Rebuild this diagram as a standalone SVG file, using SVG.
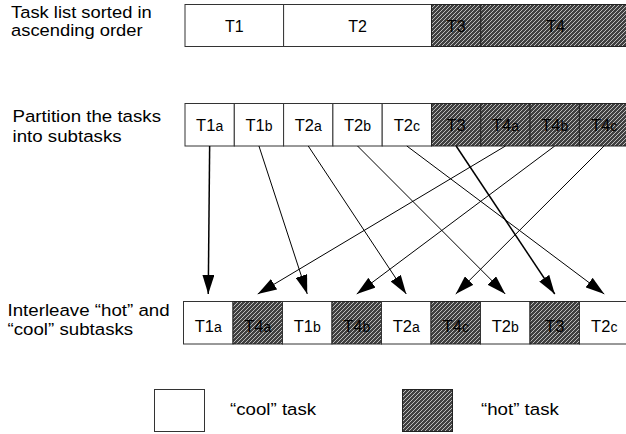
<svg xmlns="http://www.w3.org/2000/svg" width="626" height="434" viewBox="0 0 626 434">
  <style>
    .lbl { font-family: "Liberation Sans", Arial, sans-serif; font-size: 17px; fill: #000; }
    .cell { font-family: "Liberation Sans", Arial, sans-serif; font-size: 16.5px; fill: #000; text-anchor: middle; }
    .big { font-size: 16px; }
    .sub { font-size: 14px; }
    .cool { fill: #fff; stroke: #333; stroke-width: 1; }
    .hot { fill: url(#hatch); stroke: #222; stroke-width: 1; }
    .link { stroke: #000; stroke-width: 1; fill: none; marker-end: url(#head); }
    .thick { stroke-width: 1.5; }
  </style>
  <defs>
    <pattern id="hatch" patternUnits="userSpaceOnUse" width="4" height="4">
      <rect width="4" height="4" fill="#404040"/>
      <path d="M-1,1 l2,-2 M0,4 l4,-4 M3,5 l2,-2" stroke="#c8c8c8" stroke-width="0.9"/>
    </pattern>
    <marker id="head" markerUnits="userSpaceOnUse" markerWidth="19" markerHeight="12" refX="19" refY="6" orient="auto">
      <path d="M0,0 L19,6 L0,12 z" fill="#000"/>
    </marker>
  </defs>

  <!-- row labels -->
  <g id="label-sorted">
    <text class="lbl" transform="translate(11,0) scale(1.08,1)"><tspan x="0" y="18">Task list sorted in</tspan><tspan x="0" y="36">ascending order</tspan></text>
  </g>
  <g id="label-partition">
    <text class="lbl" transform="translate(12.5,0) scale(1.1,1)"><tspan x="0" y="122">Partition the tasks</tspan><tspan x="0" y="142">into subtasks</tspan></text>
  </g>
  <g id="label-interleave">
    <text class="lbl" transform="translate(7.5,0) scale(1.1,1)"><tspan x="0" y="316">Interleave “hot” and</tspan><tspan x="0" y="335">“cool” subtasks</tspan></text>
  </g>

  <!-- row 1: sorted task list -->
  <g id="sorted-list">
    <g id="s-T1"><rect class="cool" x="185" y="4.5" width="98.6" height="42"/><text class="cell big" x="234.3" y="32">T1</text></g>
    <g id="s-T2"><rect class="cool" x="283.6" y="4.5" width="147.9" height="42"/><text class="cell big" x="357.5" y="32">T2</text></g>
    <g id="s-T3"><rect class="hot" x="431.5" y="4.5" width="49.3" height="42"/><text class="cell big" x="456.2" y="32">T3</text></g>
    <g id="s-T4"><rect class="hot" x="480.8" y="4.5" width="147.9" height="42"/><text class="cell big" x="555.5" y="32">T4</text></g>
  </g>

  <!-- row 2: subtasks -->
  <g id="partitioned">
    <g id="p-T1a"><rect class="cool" x="185" y="103.5" width="49.3" height="42.5"/><text class="cell" x="209.65" y="131">T1<tspan class="sub">a</tspan></text></g>
    <g id="p-T1b"><rect class="cool" x="234.3" y="103.5" width="49.3" height="42.5"/><text class="cell" x="258.95" y="131">T1<tspan class="sub">b</tspan></text></g>
    <g id="p-T2a"><rect class="cool" x="283.6" y="103.5" width="49.3" height="42.5"/><text class="cell" x="308.25" y="131">T2<tspan class="sub">a</tspan></text></g>
    <g id="p-T2b"><rect class="cool" x="332.9" y="103.5" width="49.3" height="42.5"/><text class="cell" x="357.55" y="131">T2<tspan class="sub">b</tspan></text></g>
    <g id="p-T2c"><rect class="cool" x="382.2" y="103.5" width="49.3" height="42.5"/><text class="cell" x="406.85" y="131">T2<tspan class="sub">c</tspan></text></g>
    <g id="p-T3"><rect class="hot" x="431.5" y="103.5" width="49.3" height="42.5"/><text class="cell" x="456.15" y="131">T3</text></g>
    <g id="p-T4a"><rect class="hot" x="480.8" y="103.5" width="49.3" height="42.5"/><text class="cell" x="505.45" y="131">T4<tspan class="sub">a</tspan></text></g>
    <g id="p-T4b"><rect class="hot" x="530.1" y="103.5" width="49.3" height="42.5"/><text class="cell" x="554.75" y="131">T4<tspan class="sub">b</tspan></text></g>
    <g id="p-T4c"><rect class="hot" x="579.4" y="103.5" width="49.3" height="42.5"/><text class="cell" x="604.05" y="131">T4<tspan class="sub">c</tspan></text></g>
  </g>

  <!-- row 3: interleaved -->
  <g id="interleaved">
    <g id="i-T1a"><rect class="cool" x="183.5" y="301.5" width="49.5" height="42.5"/><text class="cell" x="208.25" y="331.5">T1<tspan class="sub">a</tspan></text></g>
    <g id="i-T4a"><rect class="hot" x="233" y="301.5" width="49.5" height="42.5"/><text class="cell" x="257.75" y="331.5">T4<tspan class="sub">a</tspan></text></g>
    <g id="i-T1b"><rect class="cool" x="282.5" y="301.5" width="49.5" height="42.5"/><text class="cell" x="307.25" y="331.5">T1<tspan class="sub">b</tspan></text></g>
    <g id="i-T4b"><rect class="hot" x="332" y="301.5" width="49.5" height="42.5"/><text class="cell" x="356.75" y="331.5">T4<tspan class="sub">b</tspan></text></g>
    <g id="i-T2a"><rect class="cool" x="381.5" y="301.5" width="49.5" height="42.5"/><text class="cell" x="406.25" y="331.5">T2<tspan class="sub">a</tspan></text></g>
    <g id="i-T4c"><rect class="hot" x="431" y="301.5" width="49.5" height="42.5"/><text class="cell" x="455.75" y="331.5">T4<tspan class="sub">c</tspan></text></g>
    <g id="i-T2b"><rect class="cool" x="480.5" y="301.5" width="49.5" height="42.5"/><text class="cell" x="505.25" y="331.5">T2<tspan class="sub">b</tspan></text></g>
    <g id="i-T3"><rect class="hot" x="530" y="301.5" width="49.5" height="42.5"/><text class="cell" x="554.75" y="331.5">T3</text></g>
    <g id="i-T2c"><rect class="cool" x="579.5" y="301.5" width="49.5" height="42.5"/><text class="cell" x="604.25" y="331.5">T2<tspan class="sub">c</tspan></text></g>
  </g>

  <!-- connectors: subtask to its interleaved slot -->
  <g id="connectors">
    <line class="link thick" x1="209.65" y1="146" x2="208.25" y2="294"/>
    <line class="link" x1="505.45" y1="146" x2="257.75" y2="294"/>
    <line class="link" x1="258.95" y1="146" x2="307.25" y2="294"/>
    <line class="link" x1="554.75" y1="146" x2="356.75" y2="294"/>
    <line class="link" x1="308.25" y1="146" x2="406.25" y2="294"/>
    <line class="link" x1="604.05" y1="146" x2="455.75" y2="294"/>
    <line class="link" x1="357.55" y1="146" x2="505.25" y2="294"/>
    <line class="link thick" x1="456.15" y1="146" x2="554.75" y2="294"/>
    <line class="link" x1="406.85" y1="146" x2="604.25" y2="294"/>
  </g>

  <!-- legend -->
  <g id="legend-cool">
    <rect class="cool" x="154.5" y="389.5" width="50" height="42"/>
    <text class="lbl" transform="translate(230,0) scale(1.1,1)" x="0" y="415">“cool” task</text>
  </g>
  <g id="legend-hot">
    <rect class="hot" x="402.5" y="389.5" width="50" height="42"/>
    <text class="lbl" transform="translate(481,0) scale(1.1,1)" x="0" y="415">“hot” task</text>
  </g>
</svg>
